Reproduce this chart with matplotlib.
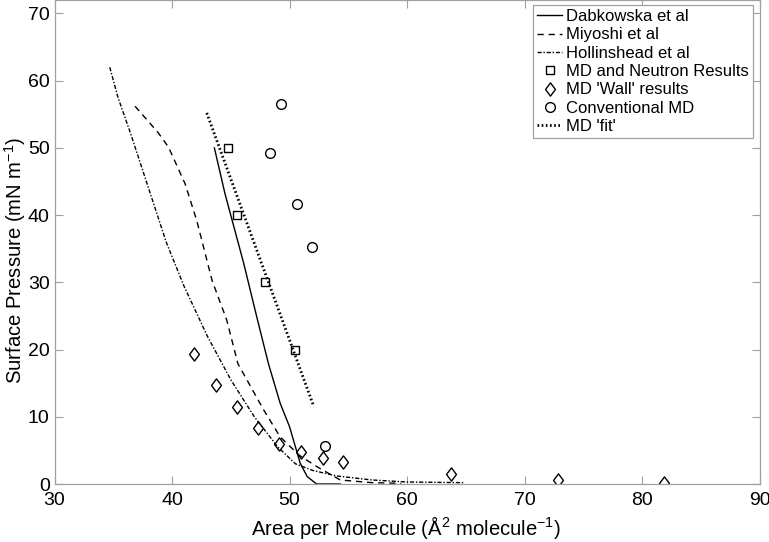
import matplotlib
matplotlib.use("Agg")
from matplotlib import pyplot as plt
from matplotlib.path import Path

plt.rcParams['font.family'] = ['Liberation Sans', 'DejaVu Sans']
plt.rcParams['mathtext.default'] = 'regular'

# Literature isotherms
dab_x = [43.6, 44.5, 46.1, 47.2, 48.2, 49.2, 50.0, 50.9, 51.5, 52.3, 54.3]
dab_y = [50.0, 43.2, 32.8, 24.9, 17.9, 12.0, 8.5, 3.1, 1.1, 0.0, 0.0]

miy_x = [36.85, 38.8, 39.7, 41.1, 42.1, 43.4, 44.65, 45.6, 47.8, 49.2, 50.8, 52.3, 54.3, 57.0, 59.5]
miy_y = [56.2, 52.3, 50.1, 44.7, 39.2, 30.3, 24.4, 17.9, 11.0, 7.0, 4.3, 2.6, 0.6, 0.2, 0.1]

hol_x = [34.7, 35.4, 36.5, 38.0, 39.5, 41.0, 43.0, 45.0, 47.0, 49.0, 50.5, 52.0, 54.0, 57.0, 60.0, 64.8]
hol_y = [62.0, 57.5, 52.0, 44.0, 36.0, 29.5, 22.0, 15.5, 10.0, 5.5, 3.0, 2.0, 1.2, 0.6, 0.3, 0.2]

# Simulation results
sq_x = [44.8, 45.5, 47.9, 50.5]
sq_y = [50.0, 40.0, 30.0, 20.0]

wall_x = [41.9, 43.7, 45.5, 47.3, 49.1, 51.0, 52.8, 54.55, 63.7, 72.8, 81.85]
wall_y = [19.3, 14.7, 11.4, 8.3, 6.0, 4.7, 3.8, 3.2, 1.5, 0.6, 0.2]

conv_x = [49.3, 48.3, 50.6, 51.9, 53.05]
conv_y = [56.6, 49.3, 41.6, 35.3, 5.7]

fit_x = [42.95, 52.0]
fit_y = [55.2, 11.8]

# matlab style diamond (taller than wide)
diamond = Path([(0, 1), (0.75, 0), (0, -1), (-0.75, 0), (0, 1)],
               [Path.MOVETO, Path.LINETO, Path.LINETO, Path.LINETO, Path.CLOSEPOLY])

fig = plt.figure(figsize=(7.69, 5.42), dpi=100)
ax = fig.add_axes([0.0709, 0.107, 0.9171, 0.893])

ax.plot(dab_x, dab_y, color='black', lw=1.0, label='Dabkowska et al')
ax.plot(miy_x, miy_y, color='black', lw=1.0, linestyle=(0, (4.5, 3.5)), label='Miyoshi et al')
ax.plot(hol_x, hol_y, color='black', lw=1.0, linestyle=(0, (3, 1.3, 1, 1.3)), label='Hollinshead et al')
ax.plot(sq_x, sq_y, linestyle='none', marker='s', ms=6, mfc='none', mec='black', mew=1.0,
        label='MD and Neutron Results')
ax.plot(wall_x, wall_y, linestyle='none', marker=diamond, ms=9.5, mfc='none', mec='black', mew=1.0,
        label="MD 'Wall' results")
ax.plot(conv_x, conv_y, linestyle='none', marker='o', ms=7, mfc='none', mec='black', mew=1.0,
        label='Conventional MD')
ax.plot(fit_x, fit_y, color='black', lw=2.0, linestyle=(0, (0.6, 0.9)), label="MD 'fit'")

ax.set_xlim(30, 90)
ax.set_ylim(0, 72)
ax.set_xticks([30, 40, 50, 60, 70, 80, 90])
ax.set_yticks([0, 10, 20, 30, 40, 50, 60, 70])

for s in ax.spines.values():
    s.set_color('#a0a0a0')
    s.set_linewidth(0.9)
ax.tick_params(direction='in', top=True, right=True, length=6, width=0.8,
               color='#a0a0a0', labelcolor='black', labelsize=14)
ax.tick_params(axis='x', pad=5.5)
ax.tick_params(axis='y', pad=3.5)

ax.set_xlabel('Area per Molecule (Å$^2$ molecule$^{-1}$)', fontsize=14.6, va='center')
ax.set_ylabel('Surface Pressure (mN m$^{-1}$)', fontsize=14.6, va='center')
ax.xaxis.set_label_coords(0.499, -0.089)
ax.yaxis.set_label_coords(-0.056, 0.463)

leg = ax.legend(loc='upper right', bbox_to_anchor=(0.990, 0.990), fontsize=12,
                handlelength=1.5, handletextpad=0.2, borderpad=0.25, labelspacing=0.2,
                borderaxespad=0, fancybox=False, framealpha=1)
leg.get_frame().set_edgecolor('#a0a0a0')
leg.get_frame().set_linewidth(0.9)

fig.savefig('out.png', dpi=100)
